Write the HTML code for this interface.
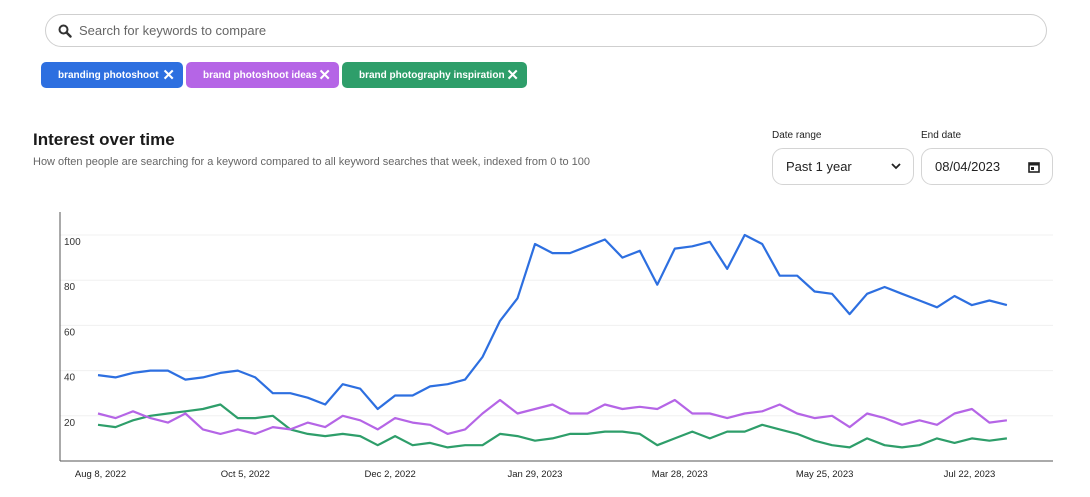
<!DOCTYPE html>
<html><head><meta charset="utf-8"><style>
body{margin:0;width:1090px;height:497px;background:#fff;font-family:"Liberation Sans",sans-serif;position:relative;overflow:hidden;color:#222}
.abs{position:absolute}
.search{left:45px;top:14px;width:1000px;height:31px;border:1px solid #cfcfcf;border-radius:17px}
.search span{position:absolute;left:33px;top:8px;font-size:13px;color:#666}
.chip{top:62px;height:26px;border-radius:5px;color:#fff;font-size:10px;font-weight:bold;line-height:28px;box-sizing:border-box;padding-left:17px}
.chip b{position:absolute;right:8px;top:0;font-size:15px}
.lbl{font-size:10px;color:#222}
.box{top:148px;height:37px;border:1px solid #d4d4d4;border-radius:11px;box-sizing:border-box;font-size:13px;line-height:35px;padding-left:13px}
</style></head><body>
<div class="abs search">
<svg class="abs" style="left:12px;top:9px" width="14" height="14"><circle cx="5.5" cy="5.5" r="4" fill="none" stroke="#333" stroke-width="2"/><line x1="8.5" y1="8.5" x2="12.5" y2="12.5" stroke="#333" stroke-width="2.4" stroke-linecap="round"/></svg>
<span>Search for keywords to compare</span></div>
<div class="abs chip" style="left:41px;width:142px;background:#2d6fe0">branding photoshoot<b>✕</b></div>
<div class="abs chip" style="left:186px;width:153px;background:#b565e6">brand photoshoot ideas<b>✕</b></div>
<div class="abs chip" style="left:342px;width:185px;background:#2e9e6a">brand photography inspiration<b>✕</b></div>
<div class="abs" style="left:33px;top:130px;font-size:17px;font-weight:bold;color:#1a1a1a">Interest over time</div>
<div class="abs" style="left:33px;top:156px;font-size:11px;color:#666">How often people are searching for a keyword compared to all keyword searches that week, indexed from 0 to 100</div>
<div class="abs lbl" style="left:772px;top:130px">Date range</div>
<div class="abs lbl" style="left:921px;top:130px">End date</div>
<div class="abs box" style="left:772px;width:142px">Past 1 year<svg class="abs" style="right:12px;top:14px" width="10" height="7"><polyline points="1,1 5,5 9,1" fill="none" stroke="#222" stroke-width="1.8"/></svg></div>
<div class="abs box" style="left:921px;width:132px">08/04/2023<svg class="abs" style="right:12px;top:12px" width="12" height="12"><rect x="1" y="2" width="10" height="9" fill="none" stroke="#222" stroke-width="1.6"/><rect x="1" y="2" width="10" height="2.5" fill="#222"/><rect x="3" y="6" width="3" height="3" fill="#222"/></svg></div>
<svg class="abs" style="left:0;top:0" width="1090" height="497" id="chart"></svg>
<script>
const yTicks=[20,40,60,80,100];
const xTickLabels=["Aug 8, 2022","Oct 5, 2022","Dec 2, 2022","Jan 29, 2023","Mar 28, 2023","May 25, 2023","Jul 22, 2023"];
const xTickDays=[1,59,117,175,233,291,349];
const brandingPhotoshoot=[38,37,39,40,40,36,37,39,40,37,30,30,28,25,34,32,23,29,29,33,34,36,46,62,72,96,92,92,95,98,90,93,78,94,95,97,85,100,96,82,82,75,74,65,74,77,74,71,68,73,69,71,69];
const brandPhotoshootIdeas=[21,19,22,19,17,21,14,12,14,12,15,14,17,15,20,18,14,19,17,16,12,14,21,27,21,23,25,21,21,25,23,24,23,27,21,21,19,21,22,25,21,19,20,15,21,19,16,18,16,21,23,17,18];
const brandPhotographyInspiration=[16,15,18,20,21,22,23,25,19,19,20,14,12,11,12,11,7,11,7,8,6,7,7,12,11,9,10,12,12,13,13,12,7,10,13,10,13,13,16,14,12,9,7,6,10,7,6,7,10,8,10,9,10];
const svg=document.getElementById('chart');const NS='http://www.w3.org/2000/svg';
const X0=98,PXD=2.497,Y0=461,PYU=2.26;
const xDay=d=>X0+d*PXD;const xIdx=i=>xDay(i*7);const yVal=v=>Y0-v*PYU;
function mk(t,a){const e=document.createElementNS(NS,t);for(const k in a)e.setAttribute(k,a[k]);svg.appendChild(e);return e;}
yTicks.forEach(v=>{const g=mk('line',{x1:60,x2:1053,y1:yVal(v),y2:yVal(v),stroke:'#f0f0f0','stroke-width':1});


const t=mk('text',{x:64,y:yVal(v)+10,'font-size':10,fill:'#333'});t.textContent=v;

});
xTickLabels.forEach((s,i)=>{const t=mk('text',{x:xDay(xTickDays[i]),y:477,'font-size':9.5,fill:'#222','text-anchor':'middle'});t.textContent=s;

});
const ya=mk('line',{x1:60,x2:60,y1:212,y2:461,stroke:'#555','stroke-width':1});


const xa=mk('line',{x1:60,x2:1053,y1:461,y2:461,stroke:'#555','stroke-width':1});


[[brandPhotographyInspiration,'#2e9e6a','series-brand-photography-inspiration'],[brandPhotoshootIdeas,'#b565e6','series-brand-photoshoot-ideas'],[brandingPhotoshoot,'#2d6fe0','series-branding-photoshoot']].forEach(([d,c,n])=>{
const p=mk('polyline',{points:d.map((v,i)=>xIdx(i).toFixed(1)+','+yVal(v).toFixed(1)).join(' '),fill:'none',stroke:c,'stroke-width':2.2,'stroke-linejoin':'round'});

});
</script>
</body></html>
